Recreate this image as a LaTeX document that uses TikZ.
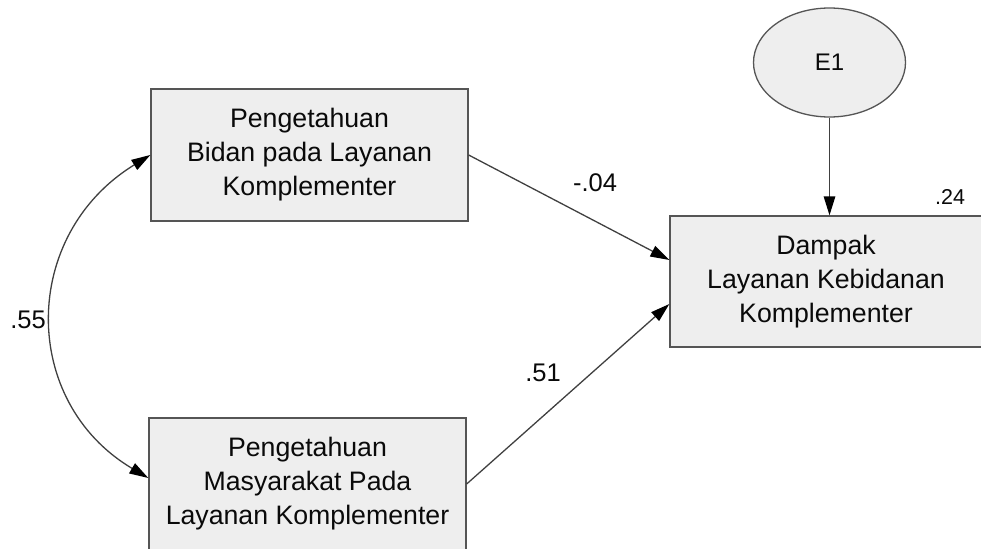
\documentclass[tikz,border=0pt]{standalone}
\usepackage{fontspec}
\setmainfont{Liberation Sans}
\usetikzlibrary{arrows.meta,shapes.geometric,calc}
\definecolor{boxfill}{HTML}{EEEEEE}
\definecolor{boxline}{HTML}{555555}
\definecolor{lineclr}{HTML}{404040}
\definecolor{txt}{HTML}{0A0A0A}
\begin{document}
\begin{tikzpicture}[x=1pt,y=-1pt,
  varbox/.style={draw=boxline,fill=boxfill,line width=1.3pt,inner sep=0pt,
    align=center,text=txt,font=\fontsize{26.7}{34}\selectfont},
  errell/.style={ellipse,draw=boxline,fill=boxfill,line width=1.3pt,inner sep=0pt,
    minimum width=152pt,minimum height=109pt,text=txt,font=\fontsize{24}{28}\selectfont},
  path/.style={draw=lineclr,line width=1.3pt,-{Triangle[length=19pt,width=11.5pt,color=black]}},
  biarrow/.style={draw=lineclr,line width=1.3pt,{Triangle[length=19pt,width=11.5pt,color=black]}-{Triangle[length=19pt,width=11.5pt,color=black]}},
  coef/.style={text=txt,inner sep=0pt,font=\fontsize{25.5}{30}\selectfont}]
\useasboundingbox (0,0) rectangle (981,548);
\node[varbox,minimum width=317pt,minimum height=132pt] (b1) at (309.5,155)
  {Pengetahuan\\Bidan pada Layanan\\Komplementer};
\node[varbox,minimum width=317pt,minimum height=132pt] (b2) at (307.5,484)
  {Pengetahuan\\Masyarakat Pada\\Layanan Komplementer};
\node[varbox,minimum width=312pt,minimum height=131pt] (b3) at (826,281.5)
  {Dampak\\Layanan Kebidanan\\Komplementer};
\node[errell] (e1) at (829.5,62.5) {E1};
\coordinate (b3in1) at ($(b3.west)+(0,-21.5)$);
\coordinate (b3in2) at ($(b3.west)+(0,22.5)$);
\coordinate (b3top) at (e1.south |- b3.north);
\draw[path] (b1.east) -- (b3in1);
\draw[path] (b2.east) -- (b3in2);
\draw[path] (e1.south) -- (b3top);
\draw[biarrow] (b1.west) .. controls (20,235) and (20,402) .. ($(b2.west)+(0,-6)$);
\node[coef] (l1) at (595,183) {-.04};
\node[coef] (l2) at (543,373) {.51};
\node[coef] (l3) at (28,320) {.55};
\node[coef,font=\fontsize{21.5}{25}\selectfont] (l4) at (950,197) {.24};
\end{tikzpicture}
\end{document}
